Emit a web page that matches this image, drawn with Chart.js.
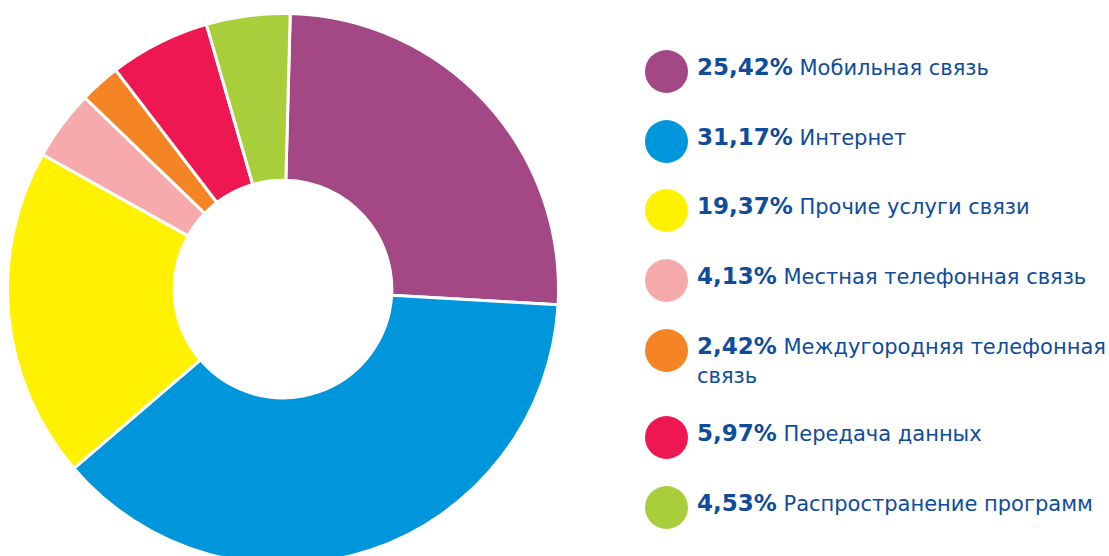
<!DOCTYPE html>
<html lang="ru">
<head>
<meta charset="utf-8">
<title>Структура доходов</title>
<script src="https://cdn.jsdelivr.net/npm/chart.js@4.4.1/dist/chart.umd.min.js"></script>
<style>
  html, body { margin: 0; padding: 0; background: #fff; overflow: hidden; width: 1109px; height: 556px; }
  #pie { position: absolute; left: 6px; top: 12px; }
  #legend {
    position: absolute; left: 645px; top: 50px; width: 478px;
    font-family: "DejaVu Sans", Verdana, sans-serif; font-size: 21px; color: #0f4c9c;
  }
  .item { position: relative; height: 69.7px; padding-left: 52px; box-sizing: border-box; }
  .item.wrapped { margin-bottom: 17.6px; }
  .dot { position: absolute; left: 0; top: 0; width: 43px; height: 43px; border-radius: 50%; }
  .txt { line-height: 29px; padding-top: 3px; }
  .txt b { font-weight: bold; font-size: 23px; }
</style>
</head>
<body>
<canvas id="pie" width="554" height="554"></canvas>
<div id="legend"></div>
<script>
// категории и доли (подписи легенды)
const categories = [
    'Мобильная связь',
    'Интернет',
    'Прочие услуги связи',
    'Местная телефонная связь',
    'Междугородняя телефонная связь',
    'Передача данных',
    'Распространение программ'
];
const percentLabels = [25.42, 31.17, 19.37, 4.13, 2.42, 5.97, 4.53];
// размеры секторов, как они нарисованы на картинке (синий сектор заметно больше подписи)
const sliceShares = [25.5, 37.8, 19.4, 4.1, 2.4, 5.9, 4.9];
const colors = ['#a34885', '#0096db', '#fff100', '#f6aaac', '#f58524', '#ef1752', '#a8ce3b'];

function fmtPct(v) {
    return v.toFixed(2).replace('.', ',') + '%';
}

// Легенда справа
const legend = document.getElementById('legend');
categories.forEach((name, i) => {
    const item = document.createElement('div');
    item.className = 'item';
    const dot = document.createElement('div');
    dot.className = 'dot';
    dot.style.background = colors[i];
    const txt = document.createElement('div');
    txt.className = 'txt';
    txt.innerHTML = '<b>' + fmtPct(percentLabels[i]) + '</b> ' + name;
    item.appendChild(dot);
    item.appendChild(txt);
    legend.appendChild(item);
    // если подпись переносится на вторую строку - чуть больше отступ
    if (txt.offsetHeight > 40) item.classList.add('wrapped');
});

new Chart(document.getElementById('pie'), {
    type: 'doughnut',
    data: {
        labels: categories,
        datasets: [{
            data: sliceShares,
            backgroundColor: colors,
            borderColor: '#ffffff',
            borderWidth: 3
        }]
    },
    options: {
        responsive: false,
        animation: false,
        rotation: 1.5,
        cutout: '39.5%',
        layout: { padding: 0 },
        plugins: { legend: { display: false }, tooltip: { enabled: false } }
    }
});
</script>
</body>
</html>
